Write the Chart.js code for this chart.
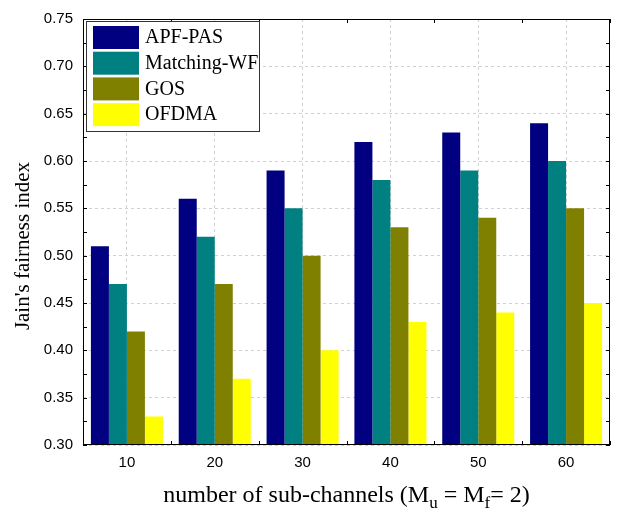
<!DOCTYPE html>
<html>
<head>
<meta charset="utf-8">
<script src="https://cdn.jsdelivr.net/npm/chart.js@4"></script>
<style>
  html, body { margin: 0; padding: 0; background: #fff; }
  #wrap { width: 618px; height: 510px; }
</style>
</head>
<body>
<div id="wrap"><canvas id="chart" width="618" height="510"></canvas></div>
<script>
// data
var categories = ['10', '20', '30', '40', '50', '60'];
var apfPas     = [0.51, 0.56, 0.59, 0.62, 0.63, 0.64];
var matchingWf = [0.47, 0.52, 0.55, 0.58, 0.59, 0.60];
var gos        = [0.42, 0.47, 0.50, 0.53, 0.54, 0.55];
var ofdma      = [0.33, 0.37, 0.40, 0.43, 0.44, 0.45];
var seriesNames = ['APF-PAS', 'Matching-WF', 'GOS', 'OFDMA'];
var seriesColors = ['#000080', '#008080', '#808000', '#ffff00'];

var serif = '"Liberation Serif", "Times New Roman", serif';
var sans = '"Liberation Sans", Arial, sans-serif';

// frame, inward ticks, legend box and axis titles
var decorPlugin = {
    id: 'decor',
    afterDraw: function(chart) {
        var ctx = chart.ctx;
        var a = chart.chartArea;
        var y = chart.scales.y;
        ctx.save();
        ctx.strokeStyle = '#000';
        ctx.lineWidth = 1;
        ctx.strokeRect(a.left + 0.5, a.top + 0.5, a.right - a.left - 1, a.bottom - a.top - 1);

        // minor ticks on left and right
        ctx.beginPath();
        for (var v = 0.30; v <= 0.7501; v += 0.025) {
            var py = Math.round(y.getPixelForValue(v)) + 0.5;
            ctx.moveTo(a.left, py); ctx.lineTo(a.left + 4, py);
            ctx.moveTo(a.right, py); ctx.lineTo(a.right - 4, py);
        }
        // ticks at category edges on top and bottom
        var cw = (a.right - a.left) / categories.length;
        for (var i = 0; i <= categories.length; i++) {
            var px = Math.round(a.left + i * cw) + 0.5;
            ctx.moveTo(px, a.top); ctx.lineTo(px, a.top + 4);
            ctx.moveTo(px, a.bottom); ctx.lineTo(px, a.bottom - 4);
        }
        ctx.stroke();

        // legend
        var lx = 86, ly = 21, lw = 173, lh = 110;
        ctx.fillStyle = '#fff';
        ctx.fillRect(lx, ly, lw, lh);
        ctx.strokeStyle = '#333';
        ctx.strokeRect(lx + 0.5, ly + 0.5, lw, lh);
        ctx.font = '20px ' + serif;
        ctx.textBaseline = 'middle';
        ctx.textAlign = 'left';
        chart.data.datasets.forEach(function(ds, k) {
            var sy = 26 + k * 25.7;
            ctx.fillStyle = ds.backgroundColor;
            ctx.fillRect(93, sy, 46, 23);
            ctx.fillStyle = '#000';
            ctx.fillText(ds.label, 145, sy + 12);
        });

        // y title
        ctx.save();
        ctx.translate(23, 246);
        ctx.rotate(-Math.PI / 2);
        ctx.textAlign = 'center';
        ctx.font = '21px ' + serif;
        ctx.fillStyle = '#000';
        ctx.fillText("Jain's fairness index", 0, 0);
        ctx.restore();

        // x title with subscripts
        var parts = [
            ['number of sub-channels (M', false],
            ['u', true],
            [' = M', false],
            ['f', true],
            ['= 2)', false]
        ];
        var big = '24px ' + serif, small = '17px ' + serif;
        var total = 0;
        parts.forEach(function(p) { ctx.font = p[1] ? small : big; total += ctx.measureText(p[0]).width; });
        var x0 = (a.left + a.right) / 2 - total / 2;
        ctx.textBaseline = 'alphabetic';
        ctx.fillStyle = '#000';
        parts.forEach(function(p) {
            ctx.font = p[1] ? small : big;
            ctx.fillText(p[0], x0, p[1] ? 508 : 502);
            x0 += ctx.measureText(p[0]).width;
        });
        ctx.restore();
    }
};

var seriesData = [apfPas, matchingWf, gos, ofdma];

new Chart(document.getElementById('chart').getContext('2d'), {
    type: 'bar',
    data: {
        labels: categories,
        datasets: seriesData.map(function(d, k) {
            return {
                label: seriesNames[k],
                data: d,
                backgroundColor: seriesColors[k],
                borderWidth: 0,
                barPercentage: 1.0,
                categoryPercentage: 0.82
            };
        })
    },
    options: {
        responsive: false,
        animation: false,
        layout: { padding: { top: 16, right: 8, left: 0, bottom: 0 } },
        plugins: {
            legend: { display: false },
            tooltip: { enabled: false }
        },
        scales: {
            x: {
                grid: { offset: false, drawTicks: false, color: '#d0d0d0' },
                border: { display: false, dash: [3, 3] },
                ticks: { padding: 9, color: '#000', font: { family: sans, size: 15 } },
                afterFit: function(s) { s.height = 65; }
            },
            y: {
                min: 0.30,
                max: 0.75,
                grid: { drawTicks: false, color: '#d0d0d0' },
                border: { display: false, dash: [3, 3] },
                ticks: {
                    stepSize: 0.05,
                    padding: 10,
                    color: '#000',
                    font: { family: sans, size: 15 },
                    callback: function(v) { return v.toFixed(2); }
                },
                afterFit: function(s) { s.width = 83; }
            }
        }
    },
    plugins: [decorPlugin]
});
</script>
</body>
</html>
